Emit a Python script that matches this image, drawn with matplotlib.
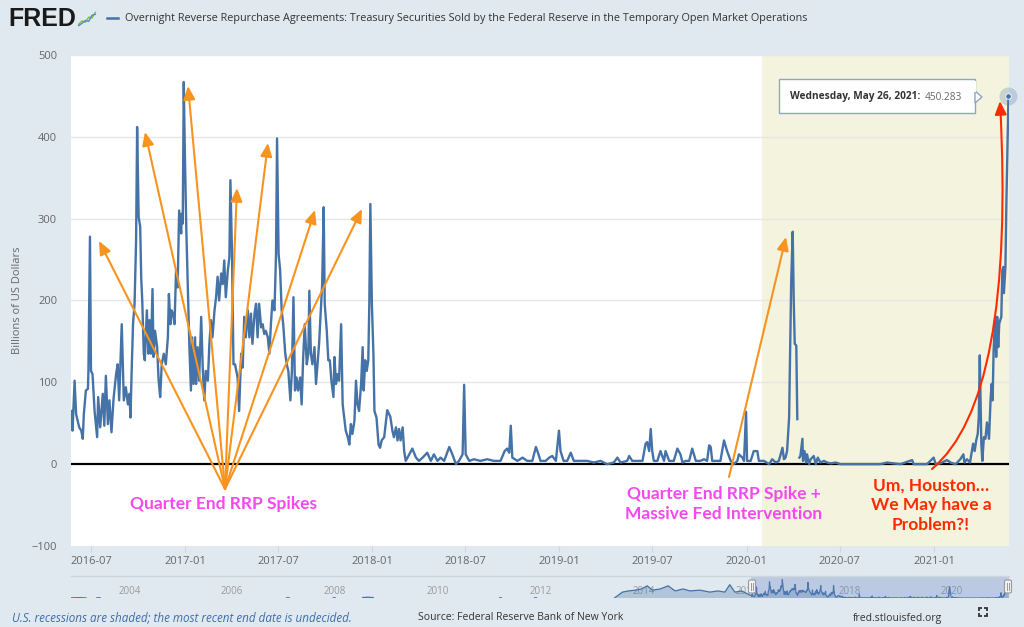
import numpy as np
import pandas as pd
import matplotlib.pyplot as plt
import matplotlib.dates as mdates
from matplotlib.patches import Rectangle, FancyBboxPatch, Polygon, FancyArrowPatch

W, H = 1024, 627
nan = float("nan")

# --- Daily series, Billions of US Dollars ---
dates_a = [
    "2016-05-24", "2016-05-26", "2016-05-30", "2016-06-02", "2016-06-08", "2016-06-12", "2016-06-15",
    "2016-06-17", "2016-06-21", "2016-06-25", "2016-06-26", "2016-06-29", "2016-07-01", "2016-07-04",
    "2016-07-08", "2016-07-13", "2016-07-15", "2016-07-19", "2016-07-24", "2016-07-27", "2016-07-30",
    "2016-08-03", "2016-08-06", "2016-08-10", "2016-08-14", "2016-08-19", "2016-08-22", "2016-08-25",
    "2016-08-30", "2016-09-03", "2016-09-07", "2016-09-11", "2016-09-14", "2016-09-16", "2016-09-18",
    "2016-09-21", "2016-09-24", "2016-09-27", "2016-09-29", "2016-10-02", "2016-10-05", "2016-10-07",
    "2016-10-09", "2016-10-12", "2016-10-14", "2016-10-18", "2016-10-21", "2016-10-23", "2016-10-26",
    "2016-10-29", "2016-10-31", "2016-11-03", "2016-11-07", "2016-11-10", "2016-11-13", "2016-11-16",
    "2016-11-20", "2016-11-24", "2016-11-28", "2016-11-30", "2016-12-03", "2016-12-05", "2016-12-08",
    "2016-12-11", "2016-12-14", "2016-12-17", "2016-12-20", "2016-12-24", "2016-12-25", "2016-12-27",
    "2016-12-29", "2016-12-31", "2017-01-03", "2017-01-06", "2017-01-09", "2017-01-12", "2017-01-14",
    "2017-01-17", "2017-01-20", "2017-01-22", "2017-01-25", "2017-01-28", "2017-02-01", "2017-02-04",
    "2017-02-07", "2017-02-10", "2017-02-14", "2017-02-17", "2017-02-20", "2017-02-23", "2017-02-27",
    "2017-03-02", "2017-03-05", "2017-03-08", "2017-03-12", "2017-03-15", "2017-03-18", "2017-03-21",
    "2017-03-25", "2017-03-28", "2017-03-30", "2017-04-02", "2017-04-05", "2017-04-08", "2017-04-13",
    "2017-04-16", "2017-04-20", "2017-04-23", "2017-04-26", "2017-04-29", "2017-05-03", "2017-05-06",
    "2017-05-09", "2017-05-12", "2017-05-16", "2017-05-19", "2017-05-22", "2017-05-25", "2017-05-29",
    "2017-06-01", "2017-06-04", "2017-06-07", "2017-06-11", "2017-06-14", "2017-06-17", "2017-06-20",
    "2017-06-24", "2017-06-27", "2017-06-29", "2017-07-02", "2017-07-05", "2017-07-08", "2017-07-11",
    "2017-07-15", "2017-07-18", "2017-07-21", "2017-07-25", "2017-07-28", "2017-07-31", "2017-08-03",
    "2017-08-06", "2017-08-09", "2017-08-13", "2017-08-16", "2017-08-19", "2017-08-22", "2017-08-26",
    "2017-08-29", "2017-08-31", "2017-09-03", "2017-09-06", "2017-09-10", "2017-09-13", "2017-09-16",
    "2017-09-19", "2017-09-23", "2017-09-25", "2017-09-28", "2017-09-30", "2017-10-04", "2017-10-07",
    "2017-10-10", "2017-10-13", "2017-10-17", "2017-10-19", "2017-10-22", "2017-10-25", "2017-10-28",
    "2017-11-01", "2017-11-04", "2017-11-07", "2017-11-10", "2017-11-14", "2017-11-17", "2017-11-20",
    "2017-11-23", "2017-11-27", "2017-11-30", "2017-12-03", "2017-12-06", "2017-12-10", "2017-12-13",
    "2017-12-15", "2017-12-18", "2017-12-21", "2017-12-24", "2017-12-26", "2017-12-28", "2017-12-31",
    "2018-01-03", "2018-01-05", "2018-01-09", "2018-01-13", "2018-01-16", "2018-01-19",
]
vals_a = [
    65, 41, 102, 61, 45, 41, 31,
    61, 90, 92, 114, 278, 114, 110,
    65, 33, 82, 45, 86, 47, 108,
    49, 78, 39, 80, 110, 122, 78,
    171, 78, 94, 73, 86, 57, 106,
    171, 196, 273, 412, 302, 290, 227,
    200, 135, 127, 188, 135, 176, 135,
    214, 131, 163, 143, 102, 82, 122,
    135, 122, 155, 208, 171, 188, 184,
    171, 237, 216, 310, 282, 306, 294,
    467, 384, 286, 216, 143, 90, 155,
    98, 155, 98, 143, 102, 180, 118,
    78, 114, 102, 147, 176, 155, 188,
    204, 229, 200, 233, 220, 249, 204,
    237, 253, 347, 261, 122, 122, 106,
    65, 135, 118, 180, 155, 188, 155,
    184, 147, 184, 196, 155, 196, 167,
    171, 159, 163, 155, 135, 171, 200,
    188, 257, 398, 257, 237, 188, 171,
    135, 122, 114, 78, 114, 204, 90,
    106, 90, 106, 73, 131, 171, 122,
    135, 212, 135, 122, 143, 98, 122,
    147, 196, 220, 314, 196, 163, 127,
    127, 102, 82, 131, 98, 110, 102,
    171, 73, 57, 41, 33, 24, 49,
    37, 53, 102, 73, 65, 98, 143,
    90, 127, 114, 127, 196, 318, 196,
    135, 65, 57, 24, 20, 29,
]

dates_b = [
    "2018-01-24", "2018-01-30", "2018-02-05", "2018-02-09", "2018-02-12", "2018-02-16", "2018-02-19",
    "2018-02-22", "2018-02-25", "2018-03-01", "2018-03-04", "2018-03-07", "2018-03-14", "2018-03-20",
    "2018-03-27", "2018-04-02", "2018-04-09", "2018-04-18", "2018-04-25", "2018-05-01", "2018-05-08",
    "2018-05-14", "2018-05-21", "2018-05-31", "2018-06-06", "2018-06-13", "2018-06-19", "2018-06-26",
    "2018-06-29", "2018-07-02", "2018-07-09", "2018-07-18", "2018-07-31", "2018-08-13", "2018-08-26",
    "2018-09-08", "2018-09-16", "2018-09-21", "2018-09-25", "2018-09-28", "2018-10-01", "2018-10-11",
    "2018-10-21", "2018-10-30", "2018-11-09", "2018-11-16", "2018-11-20", "2018-11-25", "2018-12-05",
    "2018-12-12", "2018-12-18", "2018-12-25", "2018-12-31", "2019-01-03", "2019-01-09", "2019-01-16",
    "2019-01-23", "2019-01-29", "2019-02-11", "2019-02-24", "2019-03-09", "2019-03-22", "2019-04-04",
    "2019-04-17", "2019-04-24", "2019-04-30", "2019-05-13", "2019-05-17", "2019-05-23", "2019-06-02",
    "2019-06-12", "2019-06-18", "2019-06-21", "2019-06-25", "2019-06-28", "2019-07-01", "2019-07-04",
    "2019-07-11", "2019-07-17", "2019-07-24", "2019-07-27", "2019-08-03", "2019-08-12", "2019-08-19",
    "2019-08-25", "2019-08-29", "2019-09-04", "2019-09-11", "2019-09-17", "2019-09-24", "2019-10-03",
    "2019-10-10", "2019-10-16", "2019-10-20", "2019-10-23", "2019-10-26", "2019-11-02", "2019-11-11",
    "2019-11-18", "2019-11-24", "2019-12-01", "2019-12-07", "2019-12-14", "2019-12-17", "2019-12-24",
    "2019-12-27", "2019-12-31", "2020-01-02", "2020-01-09", "2020-01-15", "2020-01-22", "2020-01-25",
    "2020-02-04", "2020-02-14", "2020-02-20",
]
vals_b = [
    33, 66, 58, 41, 33, 45, 29,
    43, 29, 45, 16, 4, 12, 19,
    8, 4, 8, 14, 4, 12, 4,
    8, 4, 21, 12, 0, 4, 12,
    97, 12, 4, 6, 4, 6, 4,
    4, 16, 19, 14, 47, 8, 4,
    8, 4, 4, 21, 14, 4, 4,
    8, 10, 4, 41, 16, 4, 4,
    14, 4, 4, 4, 2, 4, 0,
    2, 8, 2, 4, 10, 4, 4,
    4, 25, 27, 16, 43, 16, 4,
    4, 16, 4, 16, 4, 4, 19,
    12, 2, 4, 4, 19, 4, 4,
    6, 4, 23, 21, 4, 4, 4,
    29, 16, 4, 0, 4, 12, 8,
    4, 64, 4, 4, 16, 16, 4,
    4, 0, 6,
]

dates_c = [
    "2020-02-27", "2020-03-04", "2020-03-11", "2020-03-14", "2020-03-17", "2020-03-20", "2020-03-24",
    "2020-03-26", "2020-03-28", "2020-03-31", "2020-04-02", "2020-04-04", "2020-04-07", "2020-04-09",
    "2020-04-10", "2020-04-13", "2020-04-15", "2020-04-19", "2020-04-20", "2020-04-23", "2020-04-26",
    "2020-04-28", "2020-05-02", "2020-05-05", "2020-05-11", "2020-05-15", "2020-05-19", "2020-05-24",
    "2020-05-31", "2020-06-06", "2020-06-13", "2020-06-23", "2020-07-02", "2020-07-15", "2020-08-04",
    "2020-08-23", "2020-09-18", "2020-10-01", "2020-10-27", "2020-11-19", "2020-11-22", "2020-12-18",
    "2020-12-31", "2021-01-04", "2021-01-13", "2021-01-26", "2021-02-02", "2021-02-12", "2021-02-21",
    "2021-02-27", "2021-03-01", "2021-03-06", "2021-03-12", "2021-03-14", "2021-03-18", "2021-03-21",
    "2021-03-24", "2021-03-27", "2021-03-29", "2021-03-31", "2021-04-03", "2021-04-05", "2021-04-08",
    "2021-04-11", "2021-04-14", "2021-04-18", "2021-04-21", "2021-04-23", "2021-04-25", "2021-04-27",
    "2021-04-30", "2021-05-02", "2021-05-04", "2021-05-06", "2021-05-08", "2021-05-12", "2021-05-14",
    "2021-05-16", "2021-05-17", "2021-05-20", "2021-05-22", "2021-05-24", "2021-05-26",
]
vals_c = [
    2, 4, 20, 6, 8, 16, 57,
    139, 221, 284, 200, 147, 145, 55,
    nan, 8, 10, 31, 4, 16, 2,
    12, 0, 6, 10, 0, 8, 2,
    4, 2, 1, 2, 0, 0, 0,
    0, 0, 2, 0, 5, 0, 0,
    8, 0, 1, 5, 2, 0, 6,
    12, 2, 6, 2, 10, 25, 16,
    29, 37, 57, 133, 25, 4, 33,
    31, 51, 31, 78, 98, 78, 139,
    180, 131, 180, 143, 172, 180, 237,
    241, 209, 241, 323, 384, 450.283,
]

# earlier history, only shown in the navigator
nav_dates = [
    "2003-03-04", "2003-05-01", "2003-06-15", "2003-06-16", "2003-09-01", "2003-09-25", "2003-09-26",
    "2007-05-10", "2007-05-30", "2007-05-31", "2008-04-05", "2008-04-20", "2008-04-21",
    "2008-11-01", "2008-12-10", "2009-01-15", "2009-01-16", "2011-07-01", "2011-07-15", "2011-07-16",
    "2012-03-05", "2012-03-20", "2012-03-21",
    "2013-09-24", "2013-11-19", "2014-01-01", "2014-02-20", "2014-04-03", "2014-05-15", "2014-06-20",
    "2014-08-15", "2014-10-10", "2014-11-29", "2015-01-24", "2015-03-14", "2015-05-24", "2015-08-03",
    "2015-09-29", "2015-11-17", "2015-12-22", "2016-01-27", "2016-03-16", "2016-05-09",
]
nav_vals = [
    4, 8, 3, nan, 6, 4, nan,
    5, 4, nan, 6, 4, nan,
    12, 20, 10, nan, 5, 4, nan,
    5, 4, nan,
    0, 150, 180, 200, 230, 310, 200,
    230, 310, 180, 230, 180, 200, 150,
    180, 150, 340, 150, 180, 80,
]

y_ticks = [-100, 0, 100, 200, 300, 400, 500]
x_tick_dates = ["2016-07-01", "2017-01-01", "2017-07-01", "2018-01-01", "2018-07-01",
                "2019-01-01", "2019-07-01", "2020-01-01", "2020-07-01", "2021-01-01"]
nav_years = [2004, 2006, 2008, 2010, 2012, 2014, 2016, 2018, 2020]

series = pd.Series(vals_a + vals_b + vals_c,
                   index=pd.to_datetime(dates_a + dates_b + dates_c))
history = pd.concat([pd.Series(nav_vals, index=pd.to_datetime(nav_dates)), series])

BG = "#e1e9f0"
BLUE = "#4572a7"
GREY = "#666666"
ORANGE = "#f7931e"
MAGENTA = "#f548f0"
RED = "#ff2a00"
plt.rcParams["font.family"] = ["Open Sans", "DejaVu Sans"]


def fp(x, y):
    # screen pixel (top-left origin) -> figure fraction
    return (x / W, 1 - y / H)


fig = plt.figure(figsize=(W / 100, H / 100), dpi=100, facecolor=BG)

# ---------------- main chart ----------------
ax = fig.add_axes([71 / W, 1 - 546 / H, 938 / W, 491 / H])
ax.set_facecolor("white")
ax.axvspan(pd.Timestamp("2020-02-01"), pd.Timestamp("2021-05-27"), color="#f4f3dd", zorder=0, lw=0)
for yt in y_ticks[2:]:
    ax.axhline(yt, color="#e6e6e6", lw=1, zorder=1)
ax.axhline(0, color="black", lw=1.6, zorder=2)
ax.plot(series.index, series.values, color=BLUE, lw=1.7, zorder=3)

last_d, last_v = series.index[-1], series.values[-1]
ax.plot([last_d], [last_v], "o", ms=13, color=BLUE, alpha=0.25, mec="none", zorder=6, clip_on=False)
ax.plot([last_d], [last_v], "o", ms=4, color=BLUE, mec="white", mew=0.6, zorder=7, clip_on=False)

ax.set_xlim(pd.Timestamp("2016-05-23"), pd.Timestamp("2021-05-27"))
ax.set_ylim(-100, 500)
ax.set_yticks(y_ticks)
ax.set_xticks(pd.to_datetime(x_tick_dates))
ax.xaxis.set_major_formatter(mdates.DateFormatter("%Y-%m"))
ax.tick_params(axis="y", length=0, pad=10, labelsize=8, labelcolor=GREY)
ax.tick_params(axis="x", length=4.5, width=0.8, color="#ccd6eb", pad=3, labelsize=8, labelcolor=GREY)
for s in ax.spines.values():
    s.set_visible(False)
fig.text(*fp(18, 300), "Billions of US Dollars", rotation=90, ha="center", va="center",
         fontsize=8, color=GREY)

# ---------------- annotations ----------------
arrow_kw = dict(arrowstyle="-|>,head_length=0.8,head_width=0.35", lw=1.5,
                shrinkA=0, shrinkB=0, mutation_scale=10, transform=fig.transFigure, zorder=8)
origin = fp(225, 489)
for tip in [(99, 241), (145, 132), (188, 86), (237, 188), (268, 143), (315, 210), (362, 209)]:
    fig.add_artist(FancyArrowPatch(posA=origin, posB=fp(*tip), color=ORANGE, **arrow_kw))
fig.add_artist(FancyArrowPatch(posA=fp(729, 477), posB=fp(786, 237), color=ORANGE, **arrow_kw))
fig.add_artist(FancyArrowPatch(posA=fp(932, 469), posB=fp(1000, 101), color=RED,
                               connectionstyle="angle3,angleA=40,angleB=93", **arrow_kw))

txt = dict(family=["Lato", "DejaVu Sans"], weight="bold", fontsize=12.5, ha="center", va="center",
           linespacing=1.3, zorder=9)
fig.text(*fp(224, 504), "Quarter End RRP Spikes", color=MAGENTA, **txt)
fig.text(*fp(724, 504), "Quarter End RRP Spike +\nMassive Fed Intervention", color=MAGENTA, **txt)
fig.text(*fp(931, 505), "Um, Houston…\nWe May have a\nProblem?!", color=RED, **txt)

# tooltip
fig.add_artist(Rectangle(fp(779, 113), 196 / W, 34 / H, transform=fig.transFigure,
                         facecolor="white", edgecolor="#8ea6c6", lw=1, zorder=10))
fig.add_artist(Polygon([fp(975, 91), fp(982, 97), fp(975, 103)], closed=True,
                       transform=fig.transFigure, facecolor="white", edgecolor="#8ea6c6", lw=1, zorder=10))
fig.add_artist(Rectangle(fp(974.4, 91.5), 1.2 / W, 11 / H, transform=fig.transFigure,
                         facecolor="white", edgecolor="none", zorder=11))
fig.text(*fp(790, 97), "Wednesday, May 26, 2021:", fontsize=7.3, weight="bold", color="#333333",
         va="center", zorder=12)
fig.text(*fp(925, 97), "450.283", fontsize=7.3, color=GREY, va="center", zorder=12)

# ---------------- navigator ----------------
nav = fig.add_axes([71 / W, 1 - 598 / H, 938 / W, 22 / H])
nav.set_facecolor(BG)
nav.set_xlim(pd.Timestamp("2003-03-01"), pd.Timestamp("2021-05-27"))
nav.set_ylim(0, 560)
nav.fill_between(history.index, 0, history.values, color=BLUE, alpha=0.3, lw=0, zorder=2)
nav.plot(history.index, history.values, color=BLUE, lw=0.9, zorder=3)
nav.axvspan(pd.Timestamp("2016-05-23"), pd.Timestamp("2021-05-27"), color="#6685c2", alpha=0.3,
            lw=0, zorder=4)
for yr in nav_years:
    nav.annotate(str(yr), (pd.Timestamp(f"{yr}-01-01"), 0), xytext=(4, 7), textcoords="offset pixels",
                 fontsize=7, color="#9a9a9a", va="center", ha="left", zorder=1)
nav.set_xticks([])
nav.set_yticks([])
for s in nav.spines.values():
    s.set_visible(False)
fig.add_artist(plt.Line2D([71 / W, 1009 / W], [1 - 576 / H] * 2, color="#cdd5dd", lw=1,
                          transform=fig.transFigure))
for hx in (752, 1008):
    fig.add_artist(FancyBboxPatch(fp(hx - 3.5, 593), 7 / W, 13 / H, boxstyle="round,pad=0,rounding_size=0.002",
                                  transform=fig.transFigure, facecolor="#f2f2f2", edgecolor="#999999",
                                  lw=0.8, zorder=12))
    for dx in (-1, 1):
        fig.add_artist(plt.Line2D([(hx + dx) / W] * 2, [1 - 583 / H, 1 - 590 / H], color="#999999",
                                  lw=0.7, transform=fig.transFigure, zorder=13))

# ---------------- header / footer ----------------
fig.text(*fp(8, 19), "FRED", family=["Liberation Sans", "DejaVu Sans"], weight="bold", fontsize=18,
         color="#1a1a1a", va="center")
icon = fig.add_axes([77 / W, 1 - 29 / H, 20 / W, 19 / H])
icon.set_facecolor("#eef2f5")
icon.plot([0, 1, 2, 3, 4, 5], [0.5, 1.2, 0.9, 2.0, 1.8, 3.0], color="#7fbf4d", lw=1)
icon.plot([0, 1, 2, 3, 4, 5], [0.2, 0.7, 1.3, 1.1, 2.4, 2.6], color="#5b87bd", lw=1)
icon.set_xlim(-0.5, 5.5)
icon.set_ylim(-0.5, 3.5)
icon.axis("off")
fig.add_artist(plt.Line2D([107 / W, 118 / W], [1 - 18 / H] * 2, color=BLUE, lw=1.8, transform=fig.transFigure))
fig.text(*fp(125, 18), "Overnight Reverse Repurchase Agreements: Treasury Securities Sold by the Federal "
         "Reserve in the Temporary Open Market Operations", fontsize=7.87, color="#333333", va="center")

fig.text(*fp(12, 618), "U.S. recessions are shaded; the most recent end date is undecided.",
         fontsize=8.4, style="italic", color="#3d6ca6", va="center")
fig.text(*fp(418, 618), "Source: Federal Reserve Bank of New York", fontsize=7.5, color="#333333",
         va="center")
fig.text(*fp(853, 618), "fred.stlouisfed.org", fontsize=7.5, color="#333333", va="center")
for sx, sy in [(-1, -1), (1, -1), (-1, 1), (1, 1)]:
    cx, cy = 983 + sx * 4, 612 + sy * 4
    fig.add_artist(Polygon([fp(cx, cy - sy * 3), fp(cx, cy), fp(cx - sx * 3, cy)], closed=False,
                           fill=False, transform=fig.transFigure, edgecolor="#333333", lw=1.3))

fig.savefig("out.png", dpi=100, facecolor=BG)
